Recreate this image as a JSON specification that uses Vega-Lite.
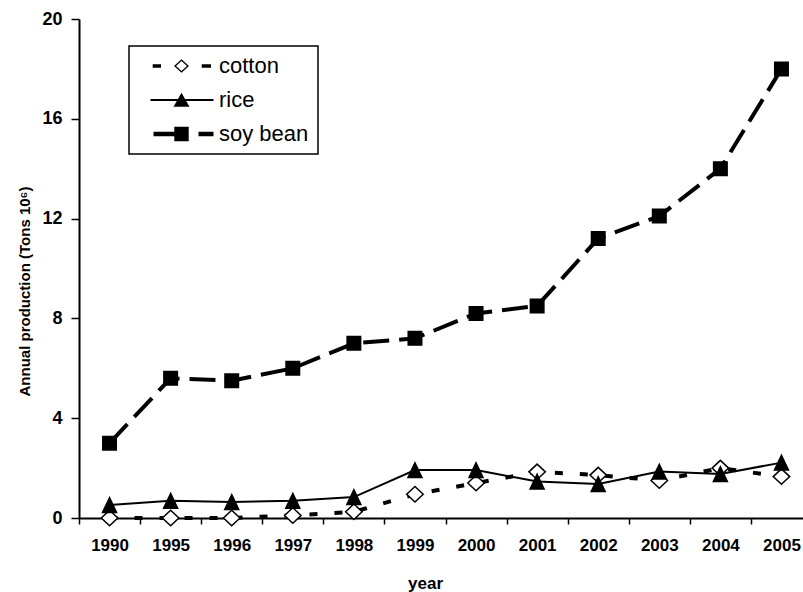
{
  "$schema": "https://vega.github.io/schema/vega-lite/v6.json",
  "width": 724,
  "height": 499,
  "autosize": "none",
  "padding": {"left": 79, "top": 19, "right": 0, "bottom": 74},
  "background": "white",
  "config": {
    "view": {"stroke": null},
    "font": "Liberation Sans",
    "legend": {"strokeWidth": 1.5}
  },
  "data": {
    "values": [
      {"year": "1990", "series": "cotton", "value": 0},
      {"year": "1995", "series": "cotton", "value": 0},
      {"year": "1996", "series": "cotton", "value": 0},
      {"year": "1997", "series": "cotton", "value": 0.1},
      {"year": "1998", "series": "cotton", "value": 0.25},
      {"year": "1999", "series": "cotton", "value": 0.95},
      {"year": "2000", "series": "cotton", "value": 1.4},
      {"year": "2001", "series": "cotton", "value": 1.85},
      {"year": "2002", "series": "cotton", "value": 1.72},
      {"year": "2003", "series": "cotton", "value": 1.5},
      {"year": "2004", "series": "cotton", "value": 2.0},
      {"year": "2005", "series": "cotton", "value": 1.66},
      {"year": "1990", "series": "rice", "value": 0.52},
      {"year": "1995", "series": "rice", "value": 0.69},
      {"year": "1996", "series": "rice", "value": 0.64},
      {"year": "1997", "series": "rice", "value": 0.69},
      {"year": "1998", "series": "rice", "value": 0.84},
      {"year": "1999", "series": "rice", "value": 1.92},
      {"year": "2000", "series": "rice", "value": 1.92},
      {"year": "2001", "series": "rice", "value": 1.46},
      {"year": "2002", "series": "rice", "value": 1.36},
      {"year": "2003", "series": "rice", "value": 1.86},
      {"year": "2004", "series": "rice", "value": 1.76},
      {"year": "2005", "series": "rice", "value": 2.22},
      {"year": "1990", "series": "soy bean", "value": 3.0},
      {"year": "1995", "series": "soy bean", "value": 5.6},
      {"year": "1996", "series": "soy bean", "value": 5.5},
      {"year": "1997", "series": "soy bean", "value": 6.0},
      {"year": "1998", "series": "soy bean", "value": 7.0},
      {"year": "1999", "series": "soy bean", "value": 7.2},
      {"year": "2000", "series": "soy bean", "value": 8.2},
      {"year": "2001", "series": "soy bean", "value": 8.5},
      {"year": "2002", "series": "soy bean", "value": 11.2},
      {"year": "2003", "series": "soy bean", "value": 12.1},
      {"year": "2004", "series": "soy bean", "value": 14.0},
      {"year": "2005", "series": "soy bean", "value": 18.0}
    ]
  },
  "encoding": {
    "x": {
      "field": "year",
      "type": "ordinal",
      "sort": null,
      "scale": {"range": [0, 733], "paddingInner": 0, "paddingOuter": 0},
      "axis": {
        "title": "year",
        "titleFont": "Liberation Sans",
        "titleFontSize": 17,
        "titleFontWeight": "bold",
        "titleColor": "black",
        "titleX": 346,
        "titleY": 65,
        "titleBaseline": "middle",
        "labelAngle": 0,
        "labelFont": "Liberation Sans",
        "labelFontSize": 17,
        "labelFontWeight": "bold",
        "labelColor": "black",
        "labelPadding": 13,
        "tickBand": "extent",
        "tickSize": 6,
        "tickWidth": 1.5,
        "tickColor": "black",
        "domainColor": "black",
        "domainWidth": 2,
        "grid": false
      }
    },
    "y": {
      "field": "value",
      "type": "quantitative",
      "scale": {"domain": [0, 20], "nice": false},
      "axis": {
        "title": "Annual production (Tons 10⁶)",
        "titleFont": "Liberation Sans",
        "titleFontSize": 15,
        "titleFontWeight": "bold",
        "titleColor": "black",
        "titleX": -55,
        "titleY": 272,
        "titleBaseline": "middle",
        "values": [0, 4, 8, 12, 16, 20],
        "labelFont": "Liberation Sans",
        "labelFontSize": 18,
        "labelFontWeight": "bold",
        "labelColor": "black",
        "labelPadding": 9,
        "tickSize": 8,
        "tickWidth": 1.5,
        "tickColor": "black",
        "domainColor": "black",
        "domainWidth": 2,
        "grid": false
      }
    }
  },
  "layer": [
    {
      "transform": [{"filter": "datum.series === 'cotton'"}],
      "mark": {"type": "line", "color": "black", "strokeWidth": 4, "strokeDash": [8, 17], "strokeCap": "butt"},
      "encoding": {}
    },
    {
      "transform": [{"filter": "datum.series === 'rice'"}],
      "mark": {"type": "line", "color": "black", "strokeWidth": 2},
      "encoding": {}
    },
    {
      "transform": [{"filter": "datum.series === 'soy bean'"}],
      "mark": {"type": "line", "color": "black", "strokeWidth": 4, "strokeDash": [26, 10], "strokeCap": "butt"},
      "encoding": {}
    },
    {
      "mark": {"type": "point", "size": 100, "stroke": "black", "strokeWidth": 1.5, "opacity": 1},
      "encoding": {
        "shape": {
          "field": "series",
          "type": "nominal",
          "scale": {
            "domain": ["cotton", "rice", "soy bean"],
            "range": [
              "M0,-1.55L1.65,0L0,1.55L-1.65,0Z",
              "M0,-1.47L1.4,1.47L-1.4,1.47Z",
              "M-1.35,-1.35L1.35,-1.35L1.35,1.35L-1.35,1.35Z"
            ]
          },
          "legend": null
        },
        "fill": {
          "field": "series",
          "type": "nominal",
          "scale": {"domain": ["cotton", "rice", "soy bean"], "range": ["white", "black", "black"]},
          "legend": null
        }
      }
    },
    {
      "transform": [{"filter": "false"}],
      "mark": {"type": "point", "filled": true, "color": "black", "opacity": 1, "strokeWidth": 0, "size": 400},
      "encoding": {
        "shape": {
          "field": "series",
          "type": "nominal",
          "scale": {
            "domain": ["cotton", "rice", "soy bean"],
            "range": [
              "M-2.88,-0.18L-2.05,-0.18L-2.05,0.18L-2.88,0.18Z M2.02,-0.18L2.95,-0.18L2.95,0.18L2.02,0.18Z M0,-0.68L0.75,0L0,0.68L-0.75,0Z M0,-0.5L-0.55,0L0,0.5L0.55,0Z",
              "M-3.1,-0.1L3.2,-0.1L3.2,0.1L-3.1,0.1Z M0,-0.72L0.8,0.68L-0.8,0.68Z",
              "M-2.8,-0.22L-0.7,-0.22L-0.7,0.22L-2.8,0.22Z M-0.72,-0.72L0.72,-0.72L0.72,0.72L-0.72,0.72Z M1.7,-0.22L3.2,-0.22L3.2,0.22L1.7,0.22Z"
            ]
          },
          "legend": {
            "title": null,
            "orient": "none",
            "legendX": 50,
            "legendY": 27,
            "strokeColor": "black",
            "fillColor": "white",
            "padding": 9,
            "rowPadding": 12,
            "symbolSize": 400,
            "symbolFillColor": "black",
            "symbolStrokeWidth": 0,
            "symbolOpacity": 1,
            "symbolOffset": 32.5,
            "labelOffset": 26.5,
            "labelFont": "Liberation Sans",
            "labelFontSize": 22,
            "labelColor": "black",
            "labelLimit": 300
          }
        }
      }
    }
  ],
  "resolve": {"scale": {"shape": "independent", "fill": "independent"}}
}
